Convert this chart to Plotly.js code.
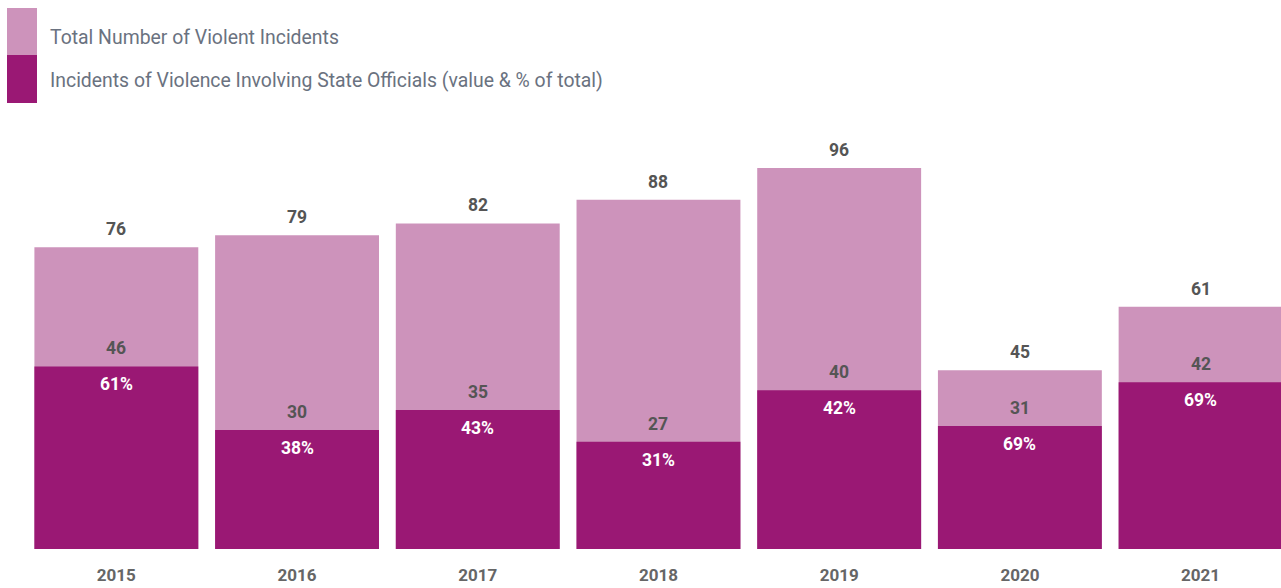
<!DOCTYPE html>
<html>
<head>
<meta charset="utf-8">
<script src="https://cdn.plot.ly/plotly-3.0.1.min.js"></script>
<style>html,body{margin:0;padding:0;background:#fff}#chart{width:1281px;height:588px}</style>
</head>
<body>
<div id="chart"></div>
<script>
const years = ["2015","2016","2017","2018","2019","2020","2021"];
const totalIncidents = [76, 79, 82, 88, 96, 45, 61];
const stateIncidents = [46, 30, 35, 27, 40, 31, 42];
const statePctLabels = ["61%","38%","43%","31%","42%","69%","69%"];
const legendLabels = ["Total Number of Violent Incidents", "Incidents of Violence Involving State Officials (value & % of total)"];

const lightColor = "#CD93BB";
const darkColor = "#9A1874";
const numFont = {family: "Roboto, sans-serif", size: 17.5, color: "#555555", weight: 700};

const traces = [
  {type: "bar", x: years, y: totalIncidents, marker: {color: lightColor}, name: legendLabels[0], hoverinfo: "skip"},
  {type: "bar", x: years, y: stateIncidents, marker: {color: darkColor}, name: legendLabels[1], hoverinfo: "skip"}
];

const annotations = [];
years.forEach((yr, i) => {
  // category index used as x position (numeric-looking category names are read as indices)
  annotations.push({x: i, y: totalIncidents[i], text: String(totalIncidents[i]), showarrow: false,
    yanchor: "bottom", yshift: 6, font: numFont});
  annotations.push({x: i, y: stateIncidents[i], text: String(stateIncidents[i]), showarrow: false,
    yanchor: "bottom", yshift: 6, font: numFont});
  annotations.push({x: i, y: stateIncidents[i], text: statePctLabels[i], showarrow: false,
    yanchor: "top", yshift: -6, font: Object.assign({}, numFont, {color: "#FFFFFF"})});
});

// custom legend (large swatches)
const L = 26, W = 1255, T = 152, H = 397;
const px = v => (v - L) / W;
const py = v => (T + H - v) / H;
const legendFont = {family: "Roboto, sans-serif", size: 19.4, color: "#6A7280"};
annotations.push({xref: "paper", yref: "paper", x: px(48), y: py(37), xanchor: "left", yanchor: "middle",
  text: legendLabels[0], showarrow: false, font: legendFont});
annotations.push({xref: "paper", yref: "paper", x: px(48), y: py(81), xanchor: "left", yanchor: "middle",
  text: legendLabels[1], showarrow: false, font: legendFont});

const shapes = [
  {type: "rect", xref: "paper", yref: "paper", x0: px(7), x1: px(37), y0: py(55), y1: py(8), fillcolor: lightColor, line: {width: 0}},
  {type: "rect", xref: "paper", yref: "paper", x0: px(7), x1: px(37), y0: py(103), y1: py(55), fillcolor: darkColor, line: {width: 0}}
];

const layout = {
  width: 1281, height: 588,
  margin: {l: L, r: 0, t: T, b: 588 - T - H},
  paper_bgcolor: "#FFFFFF", plot_bgcolor: "#FFFFFF",
  barmode: "overlay", bargap: 0.093,
  showlegend: false,
  xaxis: {type: "category", range: [-0.5, 6.445], showgrid: false, zeroline: false, showline: false, ticks: "",
    tickfont: {family: "Roboto, sans-serif", size: 17, color: "#666666", weight: 700}, ticklabelstandoff: 14},
  yaxis: {range: [0, 100], visible: false, showgrid: false, zeroline: false},
  annotations: annotations,
  shapes: shapes
};

Plotly.newPlot("chart", traces, layout, {displayModeBar: false, staticPlot: true});
</script>
</body>
</html>
